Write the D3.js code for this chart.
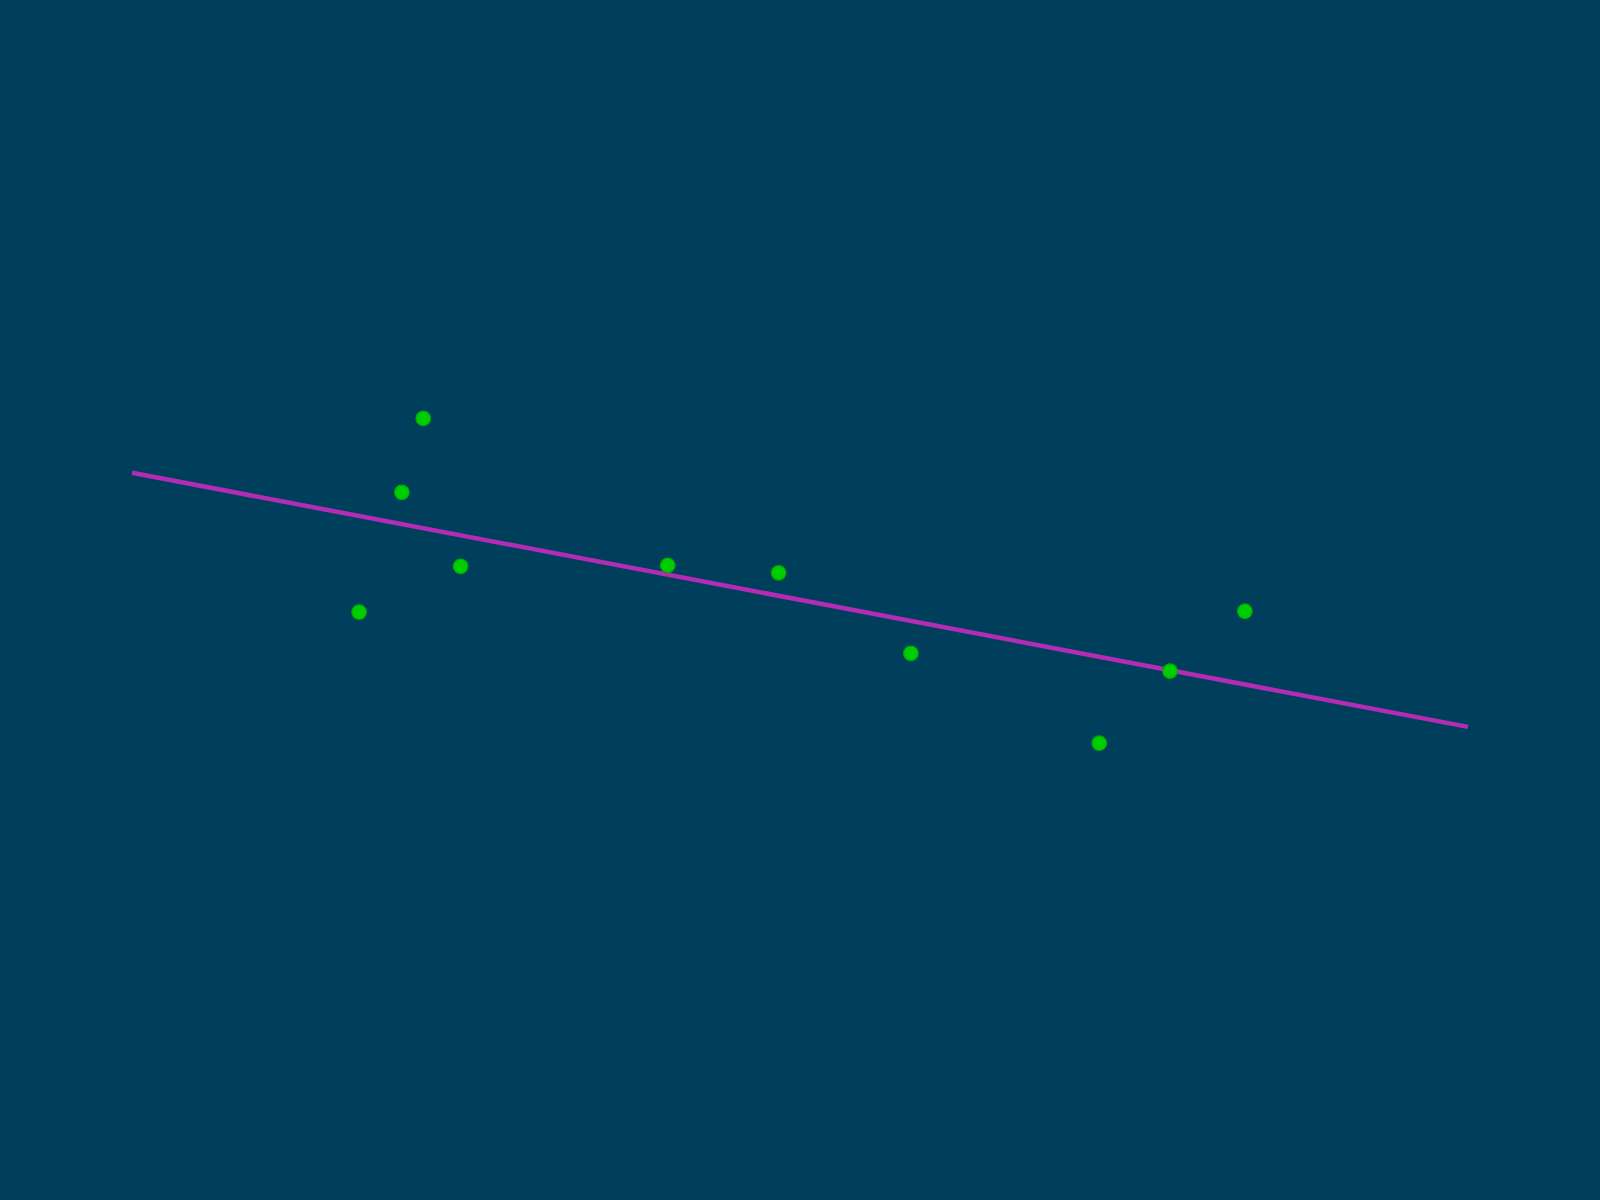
<!DOCTYPE html>
<html>
<head>
<meta charset="utf-8">
<script src="https://cdn.jsdelivr.net/npm/d3@7"></script>
<style>
  html, body { margin: 0; padding: 0; background: #003f5c; }
  svg { display: block; }
</style>
</head>
<body>
<svg id="chart"></svg>
<script>
// scatter values
const xValues = [2.18, 2.02, 2.46, 1.70, 4.01, 4.84, 5.83, 7.24, 7.77, 8.33];
const yValues = [6.94, 6.15, 5.36, 4.87, 5.37, 5.29, 4.43, 3.47, 4.24, 4.88];
const xDomain = [0, 10];
const yDomain = [0, 10];

const width = 1600;
const height = 1200;
const margin = { top: 132, right: 132, bottom: 132, left: 132 };

const points = xValues.map((x, i) => ({ x: x, y: yValues[i] }));

// least squares fit through the points
const meanX = d3.mean(points, d => d.x);
const meanY = d3.mean(points, d => d.y);
const slope = d3.sum(points, d => (d.x - meanX) * (d.y - meanY)) /
  d3.sum(points, d => (d.x - meanX) * (d.x - meanX));
const intercept = meanY - slope * meanX;
const fitLine = xDomain.map(x => ({ x: x, y: intercept + slope * x }));

const svg = d3.select('#chart')
  .attr('width', width)
  .attr('height', height);

svg.append('rect')
  .attr('width', width)
  .attr('height', height)
  .attr('fill', '#003f5c');

const xScale = d3.scaleLinear()
  .domain(xDomain)
  .range([margin.left, width - margin.right]);

const yScale = d3.scaleLinear()
  .domain(yDomain)
  .range([height - margin.bottom, margin.top]);

const line = d3.line()
  .x(d => xScale(d.x))
  .y(d => yScale(d.y));

svg.append('path')
  .attr('d', line(fitLine))
  .attr('fill', 'none')
  .attr('stroke', '#b22cb4')
  .attr('stroke-width', 4.5);

svg.append('g')
  .selectAll('circle')
  .data(points)
  .join('circle')
  .attr('cx', d => xScale(d.x))
  .attr('cy', d => yScale(d.y))
  .attr('r', 7.3)
  .attr('fill', '#00cc00')
  .attr('stroke', '#00a800')
  .attr('stroke-width', 1.2);
</script>
</body>
</html>
